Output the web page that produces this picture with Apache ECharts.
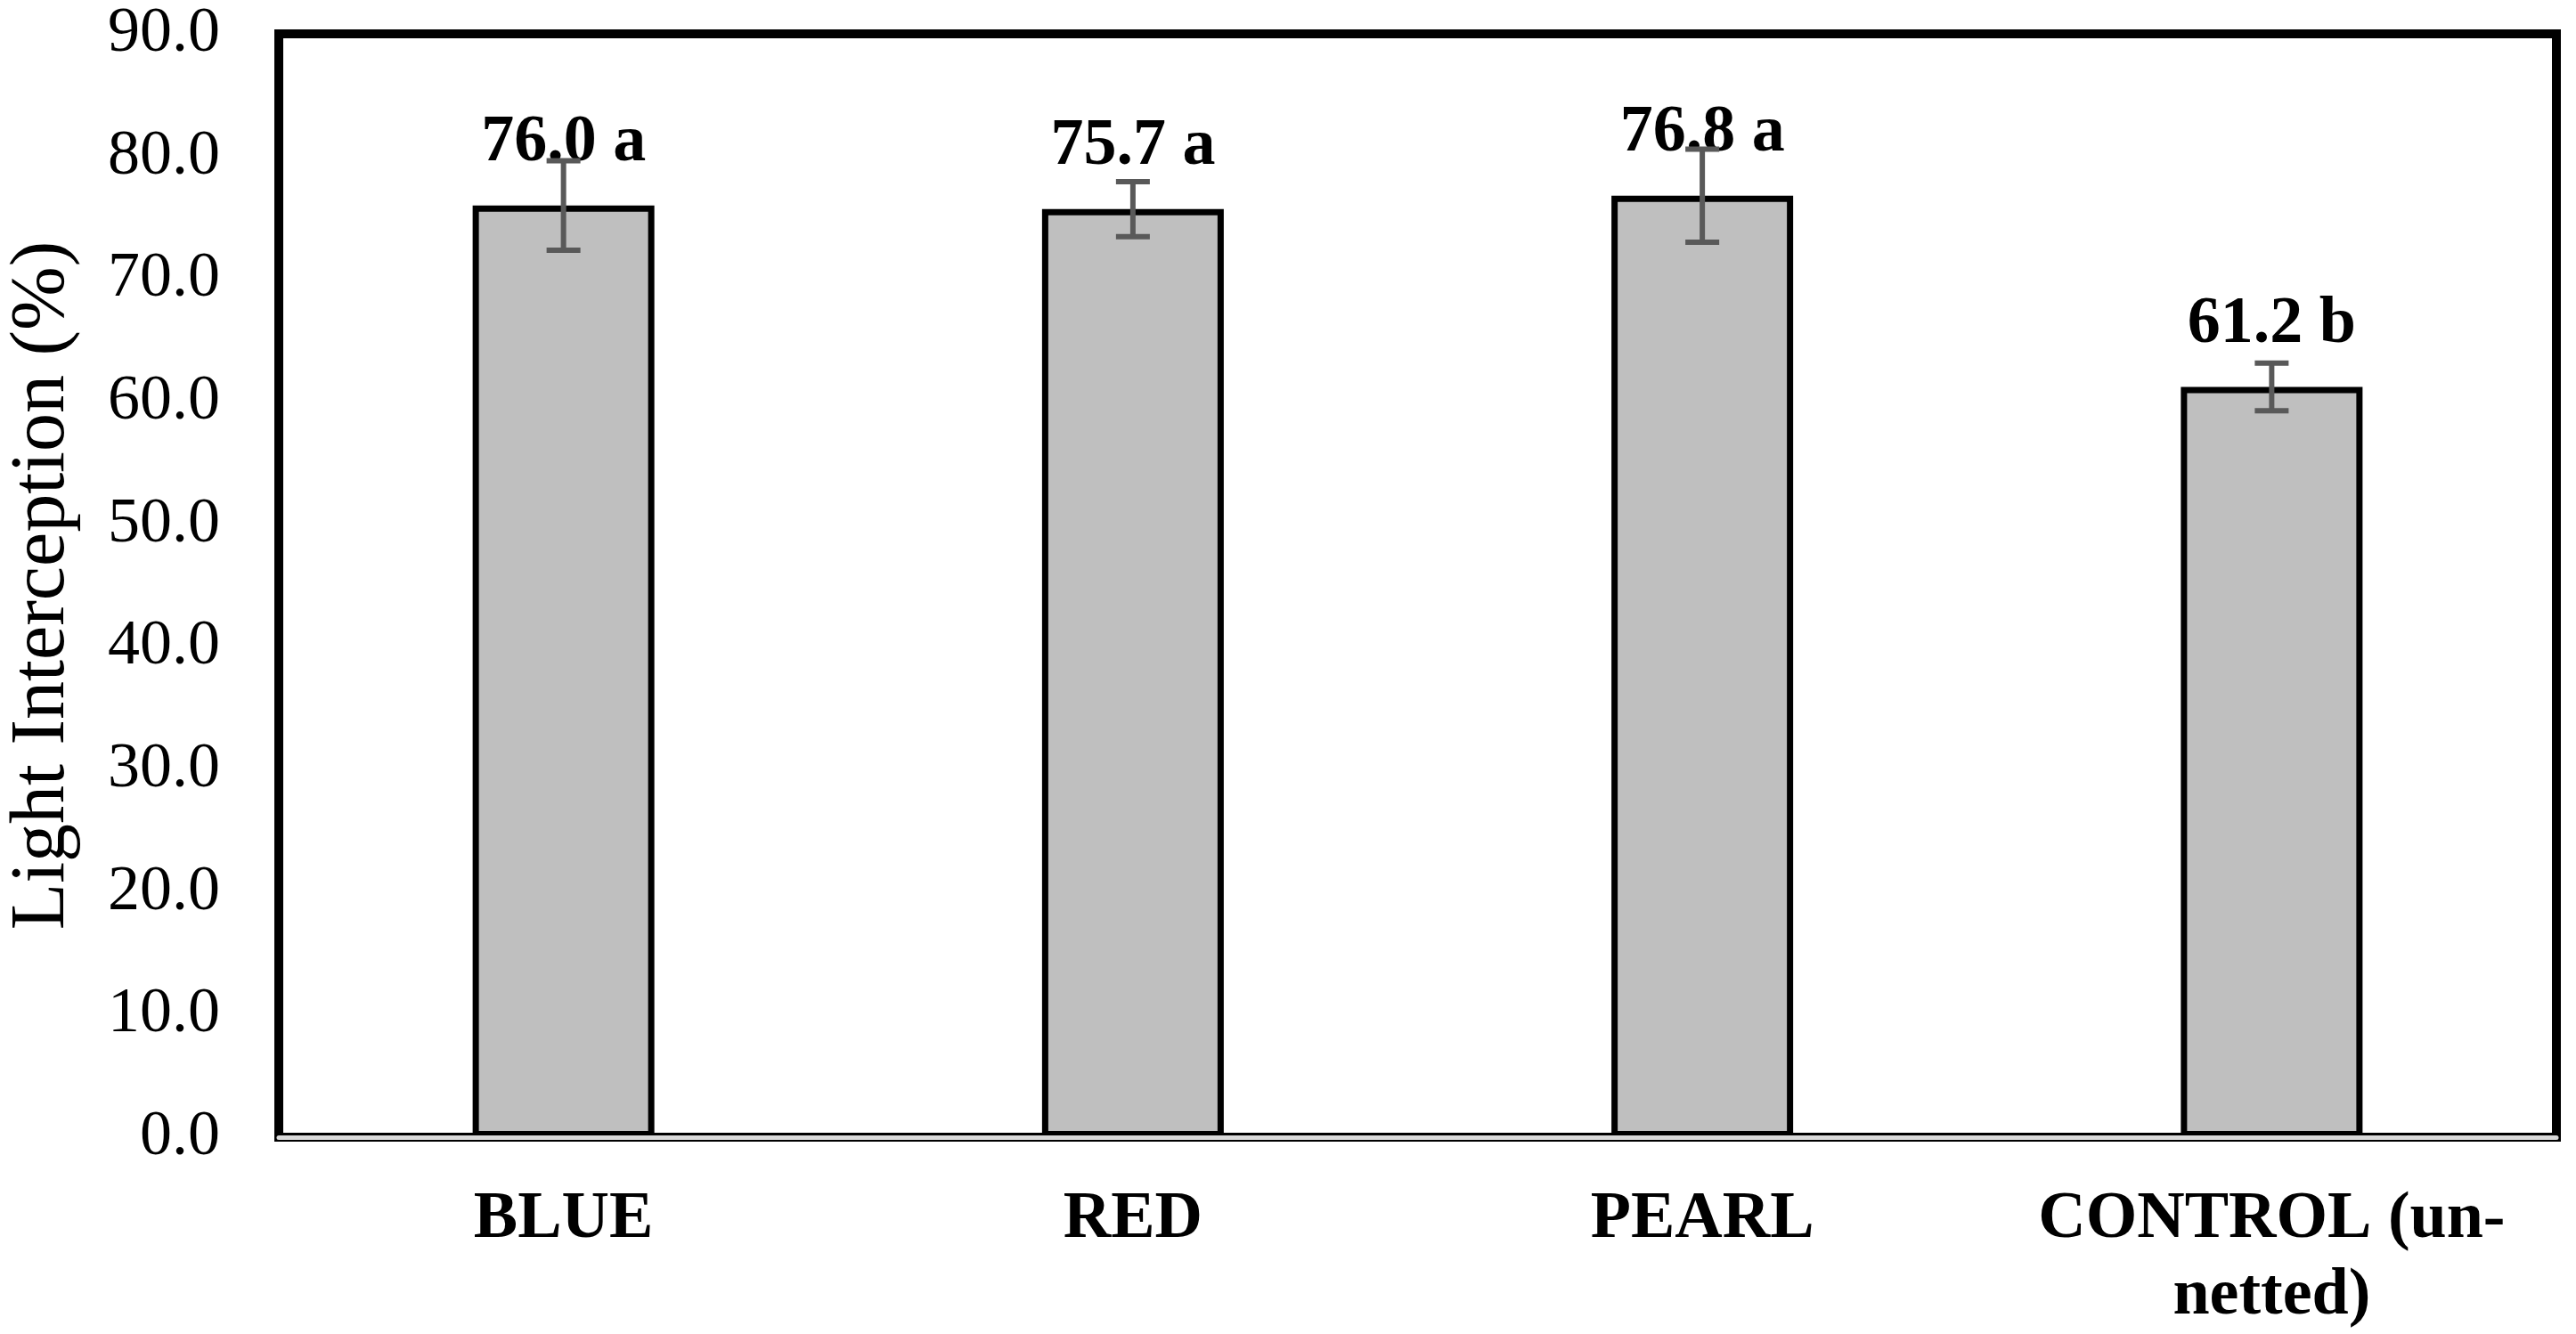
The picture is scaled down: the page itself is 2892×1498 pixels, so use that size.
<!DOCTYPE html>
<html lang="en" style="height: 100%">
<head>
    <meta charset="UTF-8">
    <title>Light Interception</title>
</head>
<body style="height: 100%; margin: 0">
<div id="container" style="width: 2892px; height: 1498px"></div>
<script type="text/javascript" src="https://cdn.jsdelivr.net/npm/echarts@6/dist/echarts.min.js"></script>
<script type="text/javascript">
    // data
    var categories = ['BLUE', 'RED', 'PEARL', 'CONTROL (un-netted)'];
    var values = [76.0, 75.7, 76.8, 61.2];
    var errors = [3.65, 2.25, 3.8, 1.95];
    var letters = ['a', 'a', 'a', 'b'];
    var yTicks = {min: 0, max: 90, interval: 10};

    var font = 'Liberation Serif';

    var dom = document.getElementById('container');
    var myChart = echarts.init(dom);

    var errData = [];
    for (var i = 0; i < values.length; i++) {
        errData.push([i, values[i] - errors[i], values[i] + errors[i]]);
    }

    var option = {
        backgroundColor: '#fff',
        animation: false,
        grid: {
            left: 313, right: 22, top: 38, bottom: 221,
            outerBoundsMode: 'none',
            containLabel: false,
            show: true, borderColor: '#000', borderWidth: 10
        },
        xAxis: [{
            type: 'category',
            data: categories,
            z: 10,
            axisLine: {lineStyle: {color: '#000', width: 10}},
            axisTick: {show: false},
            axisLabel: {
                margin: 50,
                interval: 0,
                fontFamily: font, fontSize: 74, fontWeight: 'bold', color: '#000',
                lineHeight: 86,
                formatter: function (v) { return v.replace('(un-', '(un-\n'); }
            }
        }, {
            type: 'category',
            data: categories,
            position: 'bottom',
            z: 11,
            axisLine: {lineStyle: {color: '#d9d9d9', width: 5}},
            axisTick: {show: false},
            axisLabel: {show: false}
        }],
        yAxis: {
            type: 'value',
            min: yTicks.min, max: yTicks.max, interval: yTicks.interval,
            axisLine: {show: false},
            axisTick: {show: false},
            splitLine: {show: false},
            axisLabel: {
                margin: 66,
                fontFamily: font, fontSize: 72, color: '#000',
                formatter: function (v) { return v.toFixed(1); }
            },
            name: 'Light Interception (%)',
            nameLocation: 'middle',
            nameRotate: 90,
            nameGap: 222,
            nameTextStyle: {fontFamily: font, fontSize: 86, color: '#000'}
        },
        series: [{
            type: 'bar',
            data: values,
            barWidth: 204,
            itemStyle: {color: '#bfbfbf', borderColor: '#000', borderWidth: 7},
            label: {
                show: true,
                position: 'top',
                distance: 33,
                fontFamily: font, fontSize: 74, fontWeight: 'bold', color: '#000',
                formatter: function (p) { return p.value.toFixed(1) + ' ' + letters[p.dataIndex]; }
            }
        }, {
            type: 'custom',
            z: 5,
            data: errData,
            renderItem: function (params, api) {
                var lo = api.coord([api.value(0), api.value(1)]);
                var hi = api.coord([api.value(0), api.value(2)]);
                var hw = 19;
                var st = {stroke: '#595959', lineWidth: 6};
                return {
                    type: 'group',
                    children: [
                        {type: 'line', shape: {x1: hi[0], y1: hi[1], x2: lo[0], y2: lo[1]}, style: st},
                        {type: 'line', shape: {x1: hi[0] - hw, y1: hi[1], x2: hi[0] + hw, y2: hi[1]}, style: st},
                        {type: 'line', shape: {x1: lo[0] - hw, y1: lo[1], x2: lo[0] + hw, y2: lo[1]}, style: st}
                    ]
                };
            }
        }]
    };

    myChart.setOption(option);
</script>
</body>
</html>
